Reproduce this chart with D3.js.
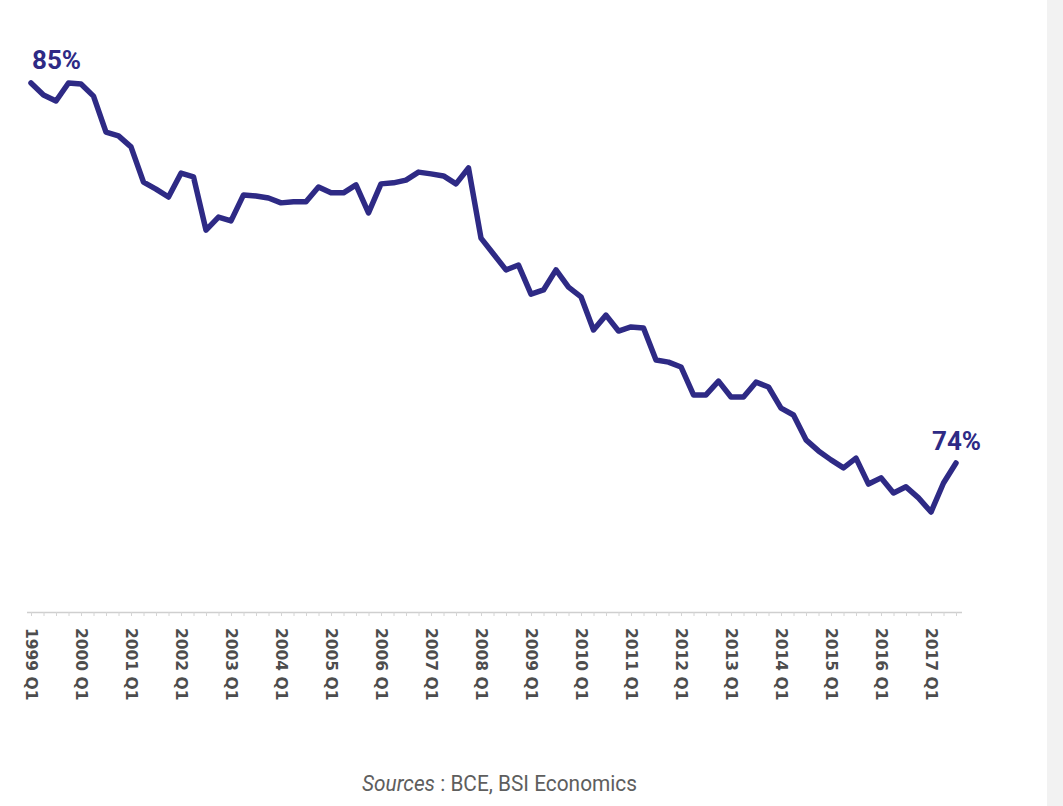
<!DOCTYPE html>
<html>
<head>
<meta charset="utf-8">
<script src="https://cdn.jsdelivr.net/npm/d3@7"></script>
<style>
  html, body { margin: 0; padding: 0; background: #ffffff; }
  svg { display: block; }
</style>
</head>
<body>
<svg id="chart" width="1063" height="806"></svg>
<script>
// Quarters from 1999 Q1 to 2017 Q3
const years = d3.range(1999, 2018);
const quarters = [];
years.forEach(y => [1, 2, 3, 4].forEach(q => quarters.push(y + " Q" + q)));
const periods = quarters.slice(0, 75);

// Share (%)
const values = [
  85.00, 84.65, 84.48, 85.00, 84.97, 84.62, 83.58, 83.47, 83.15, 82.13,
  81.93, 81.70, 82.39, 82.28, 80.74, 81.12, 81.01, 81.76, 81.73, 81.67,
  81.53, 81.56, 81.56, 81.99, 81.82, 81.82, 82.05, 81.24, 82.08, 82.11,
  82.19, 82.42, 82.37, 82.31, 82.08, 82.54, 80.51, 80.05, 79.59, 79.73,
  78.89, 79.01, 79.59, 79.09, 78.81, 77.85, 78.28, 77.82, 77.94, 77.91,
  76.98, 76.92, 76.78, 75.97, 75.97, 76.37, 75.91, 75.91, 76.34, 76.20,
  75.59, 75.39, 74.67, 74.35, 74.09, 73.86, 74.14, 73.39, 73.57, 73.13,
  73.31, 72.99, 72.58, 73.42, 74.00
];

const annotations = [
  { index: 0, text: "85%" },
  { index: 74, text: "74%" }
];

const sourceItalic = "Sources";
const sourceRest = " : BCE, BSI Economics";

const svg = d3.select("#chart");
const W = 1063, H = 806;

// right grey strip of the page
svg.append("rect").attr("x", 1047).attr("y", 0).attr("width", W - 1047).attr("height", H).attr("fill", "#f2f2f2");

const x = d3.scaleLinear().domain([0, periods.length - 1]).range([31, 956]);
const y = d3.scaleLinear().domain([74, 85]).range([463, 83]);

const lineColor = "#2e2a85";

// Axis
const axisY = 612;
const axis = d3.axisBottom(x)
  .tickValues(d3.range(0, periods.length))
  .tickSize(4)
  .tickSizeOuter(0)
  .tickFormat(i => (periods[i] && periods[i].endsWith("Q1")) ? periods[i] : "");

const gAxis = svg.append("g").attr("transform", `translate(0,${axisY})`).call(axis);
gAxis.select(".domain").attr("stroke", "#cfcfcf").attr("stroke-width", 1.5)
  .attr("d", `M27,0.5H962`);
gAxis.selectAll(".tick line").attr("stroke", "#d4d4d4").attr("stroke-width", 1);
gAxis.selectAll(".tick text")
  .attr("transform", "rotate(90)")
  .attr("x", 16)
  .attr("y", 0)
  .attr("dy", "0.35em")
  .attr("text-anchor", "start")
  .attr("fill", "#4d4d4d")
  .style("font-family", "'DejaVu Sans', sans-serif")
  .style("font-weight", "bold")
  .style("font-size", "15.5px");

// Line
const line = d3.line().x((d, i) => x(i)).y(d => y(d)).curve(d3.curveLinear);
svg.append("path")
  .datum(values)
  .attr("d", line)
  .attr("fill", "none")
  .attr("stroke", lineColor)
  .attr("stroke-width", 5.5)
  .attr("stroke-linejoin", "round")
  .attr("stroke-linecap", "round");

// Annotations
svg.selectAll("text.ann")
  .data(annotations)
  .join("text")
  .attr("class", "ann")
  .attr("x", d => d.index === 0 ? x(d.index) + 1 : x(d.index) - 24)
  .attr("y", d => y(values[d.index]) - (d.index === 0 ? 14 : 13))
  .attr("fill", lineColor)
  .style("font-family", "Roboto, 'Open Sans', sans-serif")
  .style("font-weight", "bold")
  .style("font-size", "26px")
  .text(d => d.text);

// Source
const src = svg.append("text")
  .attr("x", 362)
  .attr("y", 791)
  .attr("fill", "#5e5e5e")
  .attr("textLength", 275)
  .attr("lengthAdjust", "spacingAndGlyphs")
  .style("font-family", "Roboto, 'Open Sans', sans-serif")
  .style("font-size", "22px");
src.append("tspan").style("font-style", "italic").text(sourceItalic);
src.append("tspan").text(sourceRest);
</script>
</body>
</html>
